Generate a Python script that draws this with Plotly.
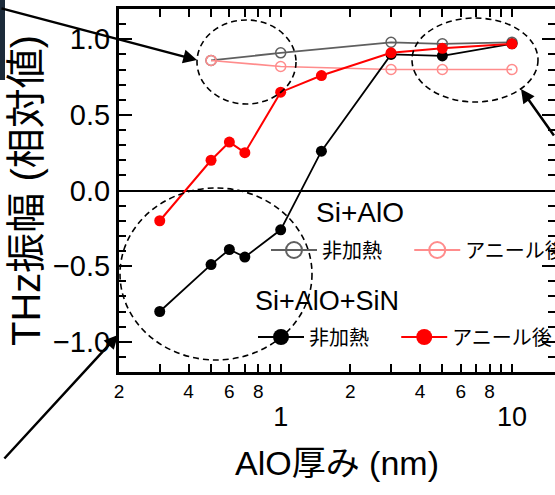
import plotly.graph_objects as go

# ---------------- data ----------------
x_alo = [0.5, 1.0, 3.0, 5.0, 10.0]
y_alo_raw = [0.86, 0.91, 0.98, 0.97, 0.98]        # Si+AlO 非加熱
y_alo_ann = [0.86, 0.82, 0.80, 0.80, 0.80]        # Si+AlO アニール後

x_sin = [0.3, 0.5, 0.6, 0.7, 1.0, 1.5, 3.0, 5.0, 10.0]
y_sin_raw = [-0.80, -0.49, -0.39, -0.44, -0.26, 0.26, 0.90, 0.89, 0.97]   # Si+AlO+SiN 非加熱
y_sin_ann = [-0.20, 0.20, 0.32, 0.25, 0.65, 0.76, 0.91, 0.94, 0.97]       # Si+AlO+SiN アニール後

x_tick_vals = [0.2, 0.3, 0.4, 0.5, 0.6, 0.7, 0.8, 0.9, 1, 2, 3, 4, 5, 6, 7, 8, 9, 10]
x_tick_text = ["2", "", "4", "", "6", "", "8", "",
               "<br><sub><span style='font-size:27px'>1</span></sub>",
               "2", "", "4", "", "6", "", "8", "",
               "<br><sub><span style='font-size:27px'>10</span></sub>"]

label_raw = "非加熱"
label_ann = "アニール後"
group1 = "Si+AlO"
group2 = "Si+AlO+SiN"

FONT = "Liberation Sans, Arial, Noto Sans CJK JP, sans-serif"
GRAY = "rgb(95,95,95)"
PINK = "rgb(255,140,140)"
NB = "\u00a0"

fig = go.Figure()

# data traces
fig.add_trace(go.Scatter(x=x_alo, y=y_alo_raw, mode="lines+markers",
                         line=dict(color=GRAY, width=1.8),
                         marker=dict(symbol="circle-open", size=10, color=GRAY, line=dict(width=1.5)),
                         showlegend=False))
fig.add_trace(go.Scatter(x=x_alo, y=y_alo_ann, mode="lines+markers",
                         line=dict(color=PINK, width=1.6),
                         marker=dict(symbol="circle-open", size=10, color=PINK, line=dict(width=1.5)),
                         showlegend=False))
fig.add_trace(go.Scatter(x=x_sin, y=y_sin_raw, mode="lines+markers",
                         line=dict(color="black", width=1.8),
                         marker=dict(symbol="circle", size=11, color="black"),
                         showlegend=False))
fig.add_trace(go.Scatter(x=x_sin, y=y_sin_ann, mode="lines+markers",
                         line=dict(color="red", width=2),
                         marker=dict(symbol="circle", size=11, color="red"),
                         showlegend=False))

# legend entries (bigger symbols, as in the original legend)
fig.add_trace(go.Scatter(x=[None], y=[None], mode="lines+markers", name=label_raw + NB * 4,
                         line=dict(color=GRAY, width=2),
                         marker=dict(symbol="circle-open", size=16, color=GRAY, line=dict(width=2)),
                         legend="legend"))
fig.add_trace(go.Scatter(x=[None], y=[None], mode="lines+markers", name=label_ann + NB * 9,
                         line=dict(color=PINK, width=2),
                         marker=dict(symbol="circle-open", size=16, color=PINK, line=dict(width=2)),
                         legend="legend"))
fig.add_trace(go.Scatter(x=[None], y=[None], mode="lines+markers", name=label_raw + NB * 4,
                         line=dict(color="black", width=2),
                         marker=dict(symbol="circle", size=16, color="black"),
                         legend="legend2"))
fig.add_trace(go.Scatter(x=[None], y=[None], mode="lines+markers", name=label_ann + NB * 9,
                         line=dict(color="red", width=2),
                         marker=dict(symbol="circle", size=16, color="red"),
                         legend="legend2"))

W, H = 555, 495
L, R, T, B = 119, 0, 9, 123
pw, ph = W - L - R, H - T - B


def px(xp):
    return (xp - L) / pw


def py(yp):
    return (H - B - yp) / ph


leg_common = dict(orientation="h", xanchor="left", yanchor="middle",
                  font=dict(family=FONT, size=20, color="black"), itemwidth=46,
                  bgcolor="rgba(0,0,0,0)", borderwidth=0, traceorder="normal")

fig.update_layout(
    width=W, height=H,
    margin=dict(l=L, r=R, t=T, b=B, autoexpand=False),
    paper_bgcolor="white", plot_bgcolor="white",
    font=dict(family=FONT, color="black"),
    legend=dict(x=px(266), y=py(250), **leg_common),
    legend2=dict(x=px(253), y=py(337), **leg_common),
    xaxis=dict(type="log", range=[-0.699, 1.186], automargin=False,
               tickmode="array", tickvals=x_tick_vals, ticktext=x_tick_text,
               ticks="inside", ticklen=8, tickwidth=2, tickcolor="black",
               tickfont=dict(family=FONT, size=19, color="black"),
               showline=True, linecolor="black", linewidth=3, mirror="ticks",
               showgrid=False, zeroline=False,
               title=dict(text="AlO厚み (nm)", font=dict(family=FONT, size=34, color="black"),
                          standoff=20)),
    yaxis=dict(range=[-1.2, 1.2], tickmode="linear", tick0=0, dtick=0.5, tickformat=".1f",
               automargin=False,
               ticks="inside", ticklen=13, tickwidth=2, tickcolor="black",
               minor=dict(dtick=0.1, ticks="inside", ticklen=7, tickwidth=2, tickcolor="black"),
               tickfont=dict(family=FONT, size=29, color="black"),
               showline=True, linecolor="black", linewidth=3, mirror="ticks",
               showgrid=False, zeroline=True, zerolinecolor="black", zerolinewidth=2,
               title=dict(text="THz振幅 (相対値)", font=dict(family=FONT, size=40, color="black"),
                          standoff=0)),
)

# dashed ellipses highlighting regions
ell = dict(type="circle", xref="paper", yref="paper",
           line=dict(color="black", width=1.6, dash="6px,4px"), fillcolor="rgba(0,0,0,0)", layer="above")
fig.add_shape(x0=px(197), x1=px(296), y0=py(104), y1=py(20), **ell)
fig.add_shape(x0=px(412), x1=px(538), y0=py(102), y1=py(18), **ell)
fig.add_shape(x0=px(120), x1=px(312), y0=py(360), y1=py(188), **ell)

# dark strip at the top-left corner
fig.add_shape(type="rect", xref="paper", yref="paper", x0=px(0), x1=px(5), y0=py(80), y1=py(-2),
              line=dict(width=0), fillcolor="#1c2b3a", layer="above")

# arrows
arr = dict(xref="paper", yref="paper", text="", showarrow=True, arrowhead=2,
           arrowsize=1.1, arrowwidth=2.5, arrowcolor="black", standoff=0)
fig.add_annotation(x=px(197), y=py(60), ax=-197, ay=-52, **arr)
fig.add_annotation(x=px(521), y=py(89), ax=40, ay=48, **arr)
fig.add_annotation(x=px(118), y=py(335), ax=-115, ay=125, **arr)

# legend group headings
fig.add_annotation(x=px(314), y=py(212), xref="paper", yref="paper", xanchor="left", yanchor="middle",
                   text=group1, showarrow=False, font=dict(family=FONT, size=28, color="black"))
fig.add_annotation(x=px(253), y=py(301), xref="paper", yref="paper", xanchor="left", yanchor="middle",
                   text=group2, showarrow=False, font=dict(family=FONT, size=27, color="black"))

fig.write_html("out.html", config={"displayModeBar": False},
               post_script="document.body.style.margin='0';document.body.style.overflow='hidden';")
